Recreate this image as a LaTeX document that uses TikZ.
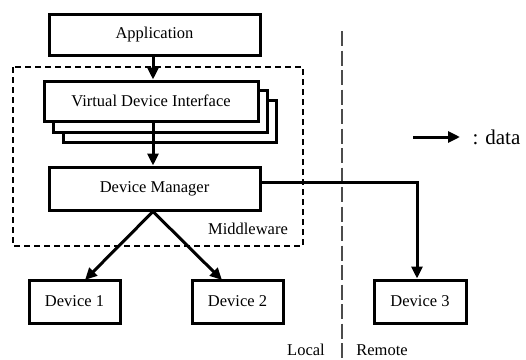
\documentclass[tikz,border=0pt]{standalone}
\usepackage{fontspec}
\setmainfont{Liberation Serif}
\usetikzlibrary{arrows.meta}
\begin{document}
\begin{tikzpicture}[x=1pt,y=-1pt,
  box/.style={draw,line width=3pt,fill=white,inner sep=0pt},
  arr/.style={line width=3pt,-{Triangle[length=12pt,width=11pt]}},
  every node/.style={font=\fontsize{16.5}{19}\selectfont}]
\useasboundingbox (0,0) rectangle (526,359);
% middleware dashed box
\draw[line width=2.6pt,dash pattern=on 6pt off 4pt] (13,67) rectangle (303,246);
\node[anchor=center] (mw) at (248,229) {Middleware};
% vertical divider
\draw[line width=1.3pt,draw=black!70,dash pattern=on 15pt off 4.5pt] (342,31) -- (342,359);
\node[anchor=base,inner sep=1pt] (loc) at (306,355) {Local};
\node[anchor=base,inner sep=1pt] (rem) at (382,355) {Remote};
% nodes
\node[box,minimum width=211pt,minimum height=41pt] (app) at (154.5,34.5) {Application};
\draw[box] (63,100) rectangle (276,142);
\draw[box] (53,90) rectangle (267,132);
\node[box,minimum width=214pt,minimum height=40pt] (vdi) at (151,101) {Virtual Device Interface};
\node[box,minimum width=211pt,minimum height=43pt] (dm) at (154.5,188.5) {Device Manager};
\node[box,minimum width=91pt,minimum height=43pt] (d1) at (74.5,301.5) {Device 1};
\node[box,minimum width=91pt,minimum height=43pt] (d2) at (237.5,301.5) {Device 2};
\node[box,minimum width=92pt,minimum height=43pt] (d3) at (420,301.5) {Device 3};
% connectors
\draw[arr] (app.south -| 153,0) -- (vdi.north -| 153,0);
\draw[arr] (vdi.south -| 153,0) -- (dm.north -| 153,0);
\coordinate (dmb) at (153,210);
\draw[arr] (dm.south -| dmb) -- (85,280);
\draw[arr] (dm.south -| dmb) -- (222,280);
\coordinate (dmr) at (260,182);
\coordinate (turn) at (417,182);
\draw[arr] (dmr) -- (turn) -- (turn |- d3.north);
% legend
\coordinate (la) at (413,137);
\coordinate (lb) at (460,137);
\draw[arr] (la) -- (lb);
\node[anchor=base west,font=\fontsize{21}{24}\selectfont] (data) at (469,144) {: data};
\end{tikzpicture}
\end{document}
